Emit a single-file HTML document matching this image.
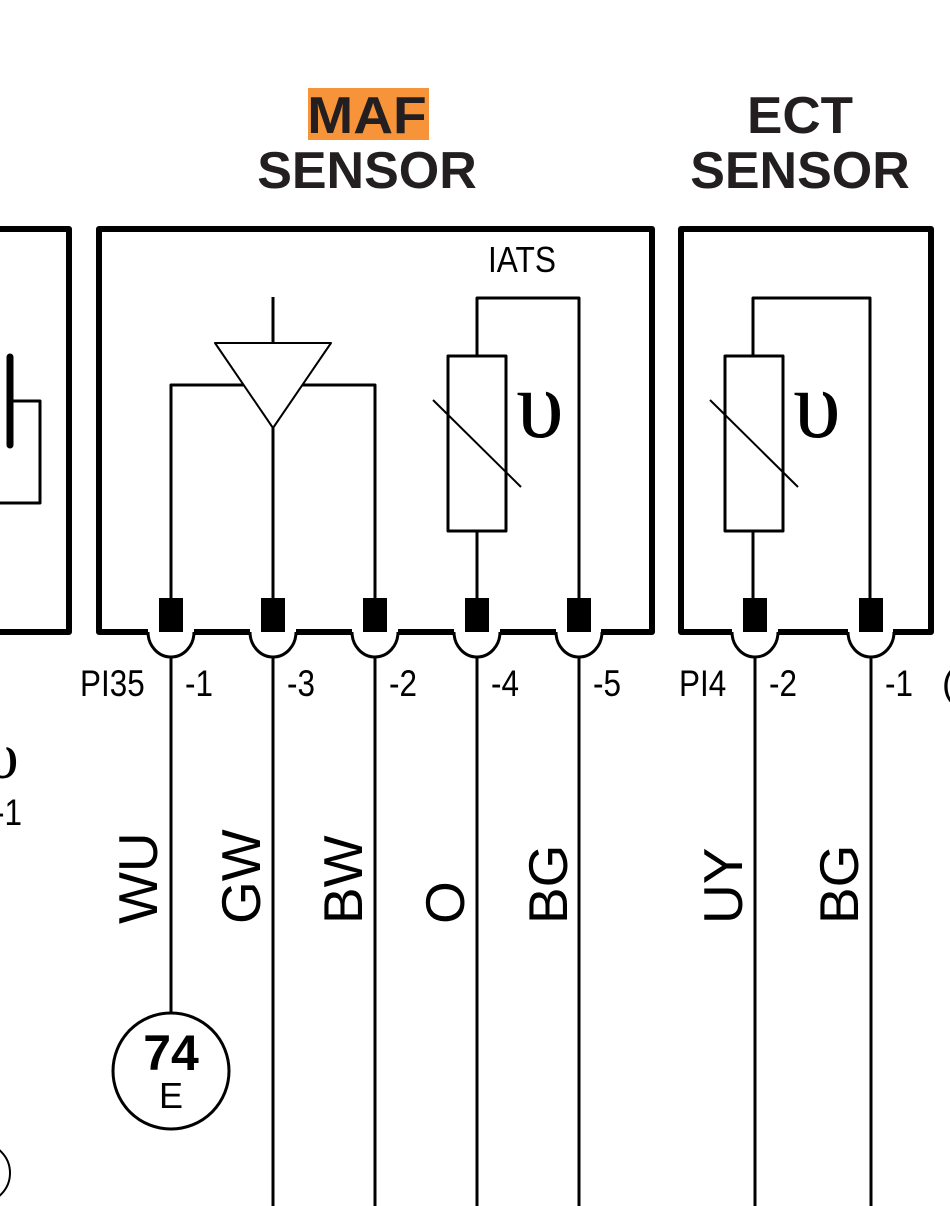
<!DOCTYPE html>
<html><head><meta charset="utf-8"><style>
html,body{margin:0;padding:0;background:#fff;}
svg{display:block;}
text{font-family:"Liberation Sans",sans-serif;}
</style></head><body>
<svg width="950" height="1206" viewBox="0 0 950 1206" xmlns="http://www.w3.org/2000/svg">
<rect width="950" height="1206" fill="#fff"/>
<!-- Titles -->
<rect x="308" y="88" width="121" height="52" fill="#f7943a"/>
<g fill="#231f20" font-weight="bold">
<text x="367" y="133" font-size="52" text-anchor="middle" transform="translate(367 0) scale(1.06 1) translate(-367 0)">MAF</text>
<text x="367" y="188" font-size="52" text-anchor="middle">SENSOR</text>
<text x="800" y="133" font-size="52" text-anchor="middle" transform="translate(800 0) scale(1.02 1) translate(-800 0)">ECT</text>
<text x="800" y="188" font-size="52" text-anchor="middle">SENSOR</text>
</g>
<g fill="none" stroke="#000" stroke-linejoin="round">
<!-- left partial box -->
<path d="M-5 229 H69 V632 H-5" stroke-width="6"/>
<line x1="10" y1="357" x2="10" y2="445" stroke-width="7" stroke-linecap="round"/>
<path d="M10 401 H40 V503 H0" stroke-width="3"/>
<!-- MAF box -->
<path d="M148 632 H99 V229 H652 V632 H601 M556 632 H500 M454 632 H398 M352 632 H296 M250 632 H194" stroke-width="6"/>
<!-- ECT box -->
<path d="M732 632 H681 V229 H931 V632 H893 M848 632 H778" stroke-width="6"/>
<!-- arcs -->
<g stroke-width="3">
<path d="M148 632 A23 25 0 0 0 194 632"/>
<path d="M250 632 A23 25 0 0 0 296 632"/>
<path d="M352 632 A23 25 0 0 0 398 632"/>
<path d="M454 632 A23 25 0 0 0 500 632"/>
<path d="M556 632 A23 25 0 0 0 602 632"/>
<path d="M732 632 A23 25 0 0 0 778 632"/>
<path d="M848 632 A23 25 0 0 0 894 632"/>
</g>
<!-- internal wiring -->
<g stroke-width="3">
<path d="M171 615 V385 H375 V615"/>
<line x1="273" y1="297" x2="273" y2="343"/>
<line x1="273" y1="428" x2="273" y2="615"/>
<path d="M477 356 V298 H579 V615"/>
<line x1="477" y1="531" x2="477" y2="615"/>
<rect x="448" y="356" width="58" height="175"/>
<path d="M753 356 V298 H870 V615"/>
<line x1="753" y1="531" x2="753" y2="615"/>
<rect x="725" y="356" width="58" height="175"/>
</g>
<polygon points="215,343 331,343 273,428" fill="#fff" stroke-width="2"/>
<line x1="433" y1="400" x2="521" y2="487" stroke-width="2"/>
<line x1="710" y1="400" x2="798" y2="487" stroke-width="2"/>
<!-- wires below -->
<g stroke-width="3">
<line x1="171" y1="657" x2="171" y2="1012"/>
<line x1="273" y1="657" x2="273" y2="1206"/>
<line x1="375" y1="657" x2="375" y2="1206"/>
<line x1="477" y1="657" x2="477" y2="1206"/>
<line x1="579" y1="657" x2="579" y2="1206"/>
<line x1="755" y1="657" x2="755" y2="1206"/>
<line x1="871" y1="657" x2="871" y2="1206"/>
</g>
<circle cx="171" cy="1071" r="58" stroke-width="3"/>
<circle cx="-20" cy="1173" r="30" stroke-width="2"/>
</g>
<!-- pins -->
<g fill="#000">
<rect x="159" y="598" width="24" height="34"/>
<rect x="261" y="598" width="24" height="34"/>
<rect x="363" y="598" width="24" height="34"/>
<rect x="465" y="598" width="24" height="34"/>
<rect x="567" y="598" width="24" height="34"/>
<rect x="743" y="598" width="24" height="34"/>
<rect x="859" y="598" width="24" height="34"/>
</g>
<!-- theta glyphs -->
<text x="540" y="437" font-size="96" text-anchor="middle" style="font-family:'Liberation Serif',serif">υ</text>
<text x="817" y="437" font-size="96" text-anchor="middle" style="font-family:'Liberation Serif',serif">υ</text>
<text x="522" y="272" font-size="36" text-anchor="middle" transform="translate(522 0) scale(0.88 1) translate(-522 0)">IATS</text>
<!-- pin labels -->
<g font-size="37" fill="#000">
<text transform="translate(80 0) scale(0.85 1)" x="0" y="696">PI35</text>
<text transform="translate(185 0) scale(0.85 1)" x="0" y="696">-1</text>
<text transform="translate(287 0) scale(0.85 1)" x="0" y="696">-3</text>
<text transform="translate(389 0) scale(0.85 1)" x="0" y="696">-2</text>
<text transform="translate(491 0) scale(0.85 1)" x="0" y="696">-4</text>
<text transform="translate(593 0) scale(0.85 1)" x="0" y="696">-5</text>
<text transform="translate(679 0) scale(0.85 1)" x="0" y="696">PI4</text>
<text transform="translate(769 0) scale(0.85 1)" x="0" y="696">-2</text>
<text transform="translate(885 0) scale(0.85 1)" x="0" y="696">-1</text>
<text transform="translate(-6 0) scale(0.85 1)" x="0" y="825">-1</text>
</g>
<text x="-14" y="778" font-size="66" style="font-family:'Liberation Serif',serif">υ</text>
<text x="942" y="696" font-size="37">(</text>
<!-- wire colour labels -->
<g font-size="55" fill="#000">
<text transform="translate(157 924) rotate(-90)">WU</text>
<text transform="translate(260 924) rotate(-90)">GW</text>
<text transform="translate(362 924) rotate(-90)">BW</text>
<text transform="translate(464 924) rotate(-90)">O</text>
<text transform="translate(567 924) rotate(-90)">BG</text>
<text transform="translate(742 924) rotate(-90)">UY</text>
<text transform="translate(858 924) rotate(-90)">BG</text>
</g>
<text x="171" y="1070" font-size="50" font-weight="bold" text-anchor="middle">74</text>
<text x="171" y="1108" font-size="36" text-anchor="middle">E</text>
</svg>
</body></html>
